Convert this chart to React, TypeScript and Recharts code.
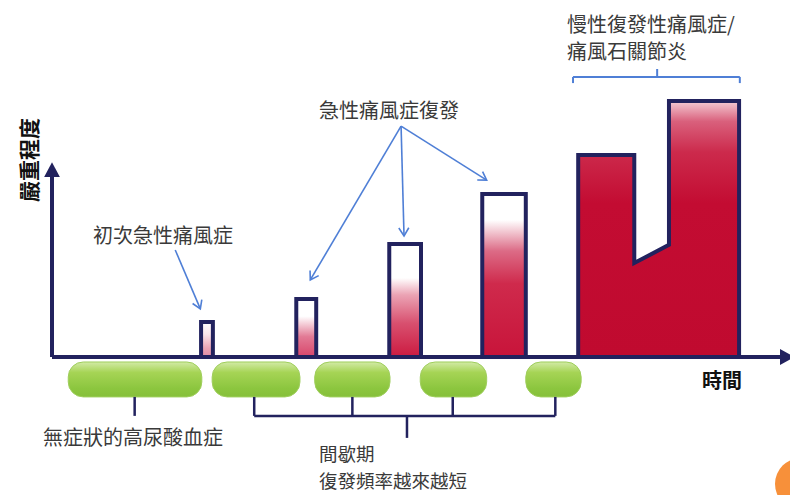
import React from 'react';
import {
  ComposedChart,
  Line,
  Area,
  XAxis,
  YAxis,
  ReferenceArea,
  ReferenceLine,
} from 'recharts';

// time runs 0..100 along the axis, severity 0..100 (negative = below the axis)
const flareTimes = [
  [20.2, 21.8],
  [33.1, 35.8],
  [45.7, 50.0],
  [58.3, 64.2],
  [71.3, 78.9, 78.9, 83.6, 83.6, 93.1],
];
const flareLevels = [
  [13.7, 13.7],
  [22.7, 22.7],
  [44.1, 44.1],
  [63.7, 63.7],
  [78.9, 78.9, 36.7, 43.8, 100, 100],
];
const flareFills = [
  [[0, '#ffffff'], [0.35, '#fbe6eb'], [0.75, '#eba3b4'], [1, '#e28ca2']],
  [[0, '#ffffff'], [0.3, '#ffffff'], [0.65, '#e27a95'], [1, '#d8456a']],
  [[0, '#ffffff'], [0.3, '#ffffff'], [0.45, '#eba3b4'], [0.7, '#d8506f'], [1, '#cc1a40']],
  [[0, '#ffffff'], [0.16, '#ffffff'], [0.35, '#dc6b86'], [0.55, '#cf2a4c'], [1, '#c8143a']],
  [[0, '#f4ccd5'], [0.08, '#d9607c'], [0.2, '#cc2a4c'], [0.4, '#c30c32'], [1, '#c00a2f']],
];

// intercritical periods (green capsules under the axis)
const quietStart = [2.2, 21.7, 35.6, 49.9, 64.2];
const quietEnd = [20.3, 33.6, 45.8, 58.9, 71.7];
const quietTop = -1.95;
const quietBottom = -15.6;

// brackets below the capsules
const firstTick = 11.2;
const groupTicks = [27.4, 40.7, 54.3, 68.2];
const groupCenter = 48.1;
const bracketLevel = -23.0;
const bracketStem = -31.6;

// chronic phase bracket above the last block
const chronicFrom = 70.6;
const chronicTo = 93.2;
const chronicMid = 82.0;

// blue pointer arrows: [fromT, fromV, toT, toV]
const firstAttackArrow = [16.7, 41.8, 20.1, 18.8];
const recurrenceFrom = [47.3, 90.2];
const recurrenceTo = [
  [35.0, 30.1],
  [47.7, 47.3],
  [58.9, 69.1],
];

const NAVY = '#22225e';
const BLUE = '#4f7fd6';

const profile: any[] = [{ t: 0, v: 0 }];
flareTimes.forEach((times, i) => {
  const key = `f${i}`;
  profile.push({ t: times[0], v: 0, [key]: 0 });
  times.forEach((t, j) => profile.push({ t, v: flareLevels[i][j], [key]: flareLevels[i][j] }));
  profile.push({ t: times[times.length - 1], v: 0, [key]: 0 });
});
profile.push({ t: 100, v: 0 });

const label: React.CSSProperties = {
  position: 'absolute',
  fontFamily: '"Noto Sans CJK TC", "Noto Sans", sans-serif',
  fontSize: 20,
  lineHeight: '20px',
  color: '#3a3a3a',
  whiteSpace: 'nowrap',
};

export default function App() {
  return (
    <div style={{ position: 'absolute', left: 0, top: 0, width: 790, height: 495, background: '#fff', overflow: 'hidden' }}>
      <ComposedChart
        width={790}
        height={495}
        data={profile}
        margin={{ top: 49.8, right: 0, bottom: 35.6, left: 52 }}
      >
        <defs>
          {flareFills.map((stops, i) => (
            <linearGradient key={i} id={`flare${i}`} x1="0" y1="0" x2="0" y2="1">
              {stops.map(([o, c], k) => (
                <stop key={k} offset={o as number} stopColor={c as string} />
              ))}
            </linearGradient>
          ))}
          <linearGradient id="pill" x1="0" y1="0" x2="0" y2="1">
            <stop offset={0} stopColor="#d2eaa6" />
            <stop offset={0.3} stopColor="#a6d455" />
            <stop offset={0.75} stopColor="#8cc63f" />
            <stop offset={1} stopColor="#86c03a" />
          </linearGradient>
          <marker id="navyHead" markerWidth={16} markerHeight={16} refX={2} refY={8} orient="auto" markerUnits="userSpaceOnUse">
            <path d="M0,0 L15,8 L0,16 Z" fill={NAVY} />
          </marker>
          <marker id="blueHead" markerWidth={12} markerHeight={12} refX={9} refY={6} orient="auto" markerUnits="userSpaceOnUse">
            <path d="M1,1 L9,6 L1,11" fill="none" stroke={BLUE} strokeWidth={1.6} />
          </marker>
        </defs>
        <XAxis type="number" dataKey="t" domain={[0, 100]} allowDataOverflow hide />
        <YAxis type="number" domain={[-40, 120]} allowDataOverflow hide />

        {quietStart.map((s, i) => (
          <ReferenceArea
            key={`q${i}`}
            x1={s}
            x2={quietEnd[i]}
            y1={quietBottom}
            y2={quietTop}
            shape={(p: any) => (
              <rect x={p.x} y={p.y} width={p.width} height={p.height} rx={15} ry={15}
                fill="url(#pill)" stroke="#9fce5c" strokeWidth={1} />
            )}
          />
        ))}

        {flareTimes.map((_, i) => (
          <Area
            key={`a${i}`}
            type="linear"
            dataKey={`f${i}`}
            baseValue={0}
            fill={`url(#flare${i})`}
            fillOpacity={1}
            stroke="none"
            connectNulls={false}
            dot={false}
            activeDot={false}
            isAnimationActive={false}
          />
        ))}
        <Line
          type="linear"
          dataKey="v"
          stroke={NAVY}
          strokeWidth={4}
          strokeLinejoin="miter"
          dot={false}
          activeDot={false}
          isAnimationActive={false}
        />

        {/* axes */}
        <ReferenceLine segment={[{ x: 0, y: 0 }, { x: 0, y: 71 }]} stroke={NAVY} strokeWidth={4} markerEnd="url(#navyHead)" ifOverflow="visible" />
        <ReferenceLine segment={[{ x: 0, y: 0 }, { x: 98.9, y: 0 }]} stroke={NAVY} strokeWidth={4} markerEnd="url(#navyHead)" ifOverflow="visible" />

        {/* brackets */}
        <ReferenceLine segment={[{ x: firstTick, y: quietBottom }, { x: firstTick, y: bracketLevel }]} stroke={NAVY} strokeWidth={2.5} ifOverflow="visible" />
        {groupTicks.map((t, i) => (
          <ReferenceLine key={`g${i}`} segment={[{ x: t, y: quietBottom }, { x: t, y: bracketLevel }]} stroke={NAVY} strokeWidth={2.5} ifOverflow="visible" />
        ))}
        <ReferenceLine segment={[{ x: groupTicks[0], y: bracketLevel }, { x: groupTicks[groupTicks.length - 1], y: bracketLevel }]} stroke={NAVY} strokeWidth={2.5} ifOverflow="visible" />
        <ReferenceLine segment={[{ x: groupCenter, y: bracketLevel }, { x: groupCenter, y: bracketStem }]} stroke={NAVY} strokeWidth={2.5} ifOverflow="visible" />

        <ReferenceLine segment={[{ x: chronicFrom, y: 107 }, { x: chronicFrom, y: 109.4 }]} stroke={BLUE} strokeWidth={2} ifOverflow="visible" />
        <ReferenceLine segment={[{ x: chronicTo, y: 107 }, { x: chronicTo, y: 109.4 }]} stroke={BLUE} strokeWidth={2} ifOverflow="visible" />
        <ReferenceLine segment={[{ x: chronicFrom, y: 109.4 }, { x: chronicTo, y: 109.4 }]} stroke={BLUE} strokeWidth={2} ifOverflow="visible" />
        <ReferenceLine segment={[{ x: chronicMid, y: 109.4 }, { x: chronicMid, y: 112.5 }]} stroke={BLUE} strokeWidth={2} ifOverflow="visible" />

        {/* pointer arrows */}
        <ReferenceLine
          segment={[{ x: firstAttackArrow[0], y: firstAttackArrow[1] }, { x: firstAttackArrow[2], y: firstAttackArrow[3] }]}
          stroke={BLUE} strokeWidth={1.6} markerEnd="url(#blueHead)" ifOverflow="visible"
        />
        {recurrenceTo.map(([t, v], i) => (
          <ReferenceLine
            key={`r${i}`}
            segment={[{ x: recurrenceFrom[0], y: recurrenceFrom[1] }, { x: t, y: v }]}
            stroke={BLUE} strokeWidth={1.6} markerEnd="url(#blueHead)" ifOverflow="visible"
          />
        ))}
      </ComposedChart>

      <div style={{ ...label, left: 93, top: 225 }}>初次急性痛風症</div>
      <div style={{ ...label, left: 319, top: 100 }}>急性痛風症復發</div>
      <div style={{ ...label, left: 567, top: 10, lineHeight: '27px' }}>
        慢性復發性痛風症/
        <br />
        痛風石關節炎
      </div>
      <div style={{ ...label, left: 43, top: 427 }}>無症狀的高尿酸血症</div>
      <div style={{ ...label, left: 319, top: 440, fontSize: 18.5, lineHeight: '27px' }}>
        間歇期
        <br />
        復發頻率越來越短
      </div>
      <div style={{ ...label, left: 702, top: 370, fontWeight: 700, color: '#111' }}>時間</div>
      <div
        style={{
          ...label,
          left: 28,
          top: 160,
          fontSize: 21,
          lineHeight: '21px',
          fontWeight: 700,
          color: '#111',
          transform: 'translate(-50%, -50%) rotate(-90deg)',
        }}
      >
        嚴重程度
      </div>
      <div style={{ position: 'absolute', left: 775, top: 458, width: 52, height: 52, borderRadius: '50%', background: '#f7903a' }} />
    </div>
  );
}
